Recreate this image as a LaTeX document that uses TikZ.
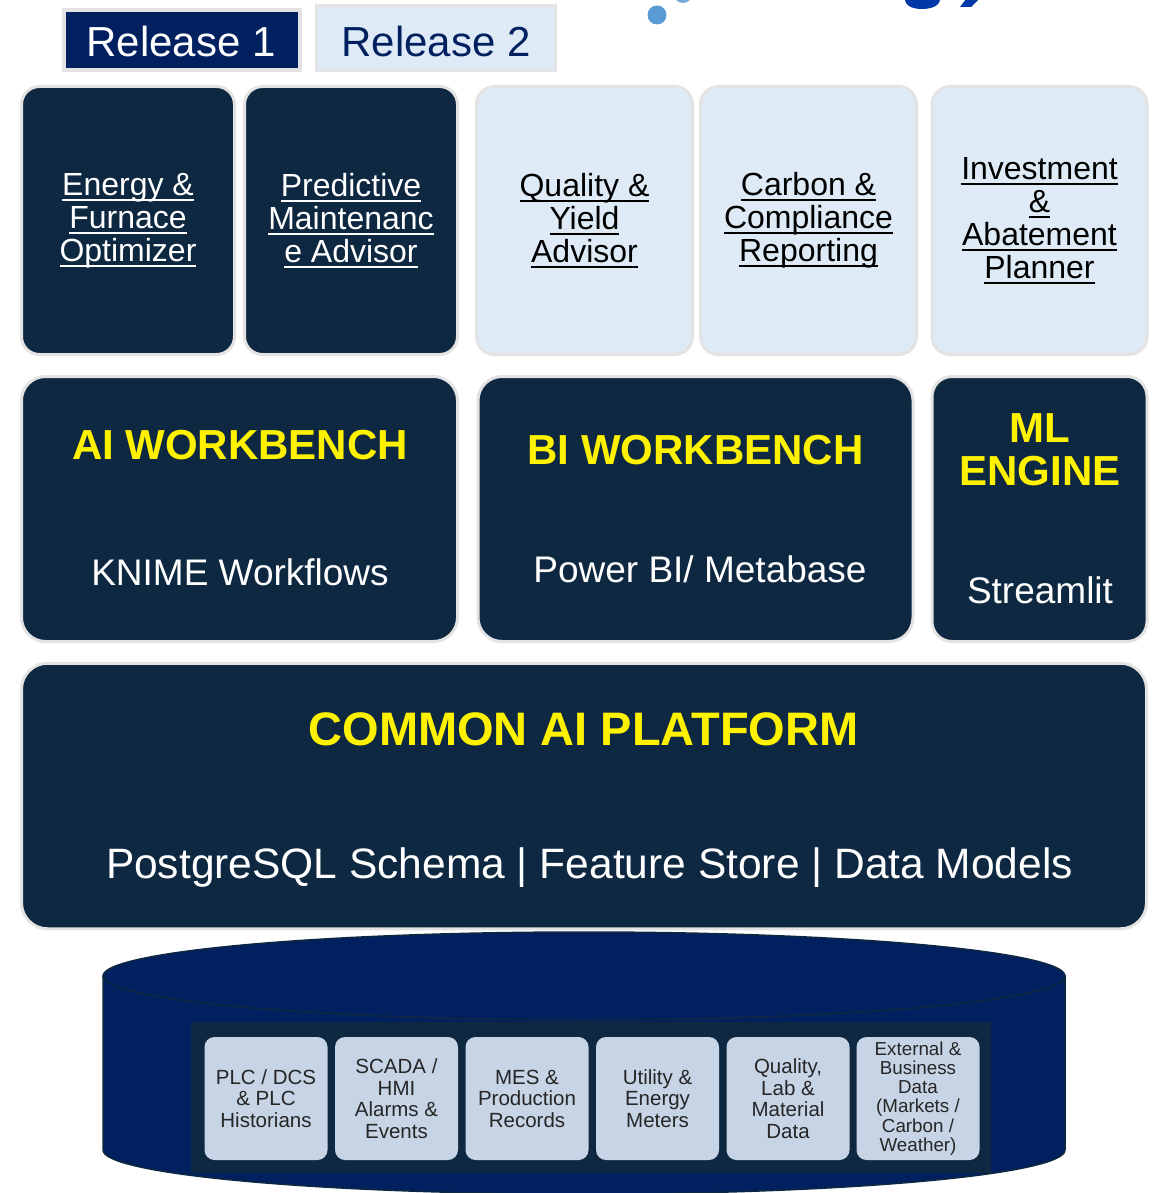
\documentclass[tikz,border=0pt]{standalone}
\usepackage{fontspec}
\setmainfont{Liberation Sans}
\definecolor{navy}{HTML}{0F2841}
\definecolor{relblue}{HTML}{002060}
\definecolor{lightcard}{HTML}{DEEBF7}
\definecolor{cardedge}{HTML}{E3E3E3}
\definecolor{databox}{HTML}{C6D4E5}
\definecolor{datatext}{HTML}{262626}
\definecolor{dotblue}{HTML}{5B9BD5}
\definecolor{logoblue}{HTML}{0038A8}
\definecolor{cylline}{HTML}{0E2841}
\newcommand\ulx[1]{\setbox0\hbox{#1}\rlap{\rule[-5.5pt]{\wd0}{1.8pt}}\box0}
\tikzset{
  card/.style={draw=cardedge, line width=3pt, rounded corners=18pt, inner sep=0pt, align=center},
  darkcard/.style={card, fill=navy, text=white},
  lightcardbox/.style={card, fill=lightcard, text=black},
  apptext/.style={font=\fontsize{32}{33}\selectfont},
  titletext/.style={text=yellow, font=\bfseries\fontsize{42}{43}\selectfont, align=center, inner sep=0pt, anchor=base},
  subtext/.style={text=white, font=\fontsize{37}{38}\selectfont, inner sep=0pt, anchor=base},
  databoxst/.style={fill=databox, rounded corners=10pt, minimum width=123pt, minimum height=123pt, inner sep=0pt, align=center, text=datatext, font=\fontsize{20.5}{21.5}\selectfont},
}
\begin{document}
\begin{tikzpicture}[x=1pt,y=-1pt]
\useasboundingbox (0,0) rectangle (1152,1193);
\clip (0,0) rectangle (1152,1193);
\fill[white] (0,0) rectangle (1152,1193);

% logo fragments
\fill[dotblue] (657,15) circle[radius=9.5pt];
\fill[dotblue!85] (683,-6) circle[radius=9pt];
\fill[logoblue] (905,-1) .. controls (905,6) and (913,9) .. (922,9) .. controls (931,9) and (940,6) .. (940,-1) -- cycle;
\fill[logoblue] (966,-1) -- (979,-1) -- (971,7) -- (960,7) -- cycle;

% releases
\node[draw=cardedge, line width=4pt, fill=relblue, minimum width=236pt, minimum height=60pt, inner sep=0pt] (rel1) at (182,40) {};
\node[text=white, font=\fontsize{42}{44}\selectfont, anchor=base, inner sep=0pt] (rel1t) at (181,57) {Release 1};
\node[draw=cardedge, line width=3pt, fill=lightcard, minimum width=239pt, minimum height=65pt, inner sep=0pt] (rel2) at (435.5,38.5) {};
\node[text=relblue, font=\fontsize{42}{44}\selectfont, anchor=base, inner sep=0pt] (rel2t) at (436,57) {Release 2};

% application cards
\node[darkcard, apptext, minimum width=213pt, minimum height=268pt] (app1) at (128,220.5) {\ulx{Energy \&}\\\ulx{Furnace}\\\ulx{Optimizer}};
\node[darkcard, apptext, minimum width=213pt, minimum height=268pt] (app2) at (351,220.5) {\ulx{Predictive}\\\ulx{Maintenanc}\\\ulx{e Advisor}};
\node[lightcardbox, apptext, minimum width=216pt, minimum height=268pt] (app3) at (584.5,220.5) {\ulx{Quality \&}\\\ulx{Yield}\\\ulx{Advisor}};
\node[lightcardbox, apptext, minimum width=216pt, minimum height=268pt] (app4) at (808.5,220.5) {\ulx{Carbon \&}\\\ulx{Compliance}\\\ulx{Reporting}};
\node[lightcardbox, apptext, minimum width=215pt, minimum height=268pt] (app5) at (1039.5,220.5) {\ulx{Investment}\\\ulx{\&}\\\ulx{Abatement}\\\ulx{Planner}};

% workbenches
\node[darkcard, minimum width=436pt, minimum height=265pt, rounded corners=24pt] (ai) at (239.5,509) {};
\node[titletext] (aititle) at (240,459) {AI WORKBENCH};
\node[subtext] (aisub) at (240,585) {KNIME Workflows};

\node[darkcard, minimum width=435pt, minimum height=265pt, rounded corners=24pt] (bi) at (695.5,509) {};
\node[titletext] (bititle) at (695.5,464) {BI WORKBENCH};
\node[subtext] (bisub) at (700,582) {Power BI/ Metabase};

\node[darkcard, minimum width=215pt, minimum height=265pt, rounded corners=20pt] (ml) at (1039.5,509) {};
\node[titletext] (mltitle1) at (1040,442) {ML};
\node[titletext] (mltitle2) at (1040,485) {ENGINE};
\node[subtext] (mlsub) at (1040,603) {Streamlit};

% cylinder (data layer)
\filldraw[fill=relblue, draw=cylline, line width=1.5pt] (103,976) -- (103,1150) .. controls (103,1174.3) and (318.3,1194) .. (584,1194) .. controls (849.7,1194) and (1065,1174.3) .. (1065,1150) -- (1065,976) -- cycle;
\filldraw[fill=relblue, draw=cylline, line width=1.5pt] (584,976) ellipse[x radius=481pt, y radius=44pt];
\node[fill=navy, minimum width=800pt, minimum height=151pt, inner sep=0pt] (datapanel) at (591,1097.5) {};

\node[databoxst] (d1) at (266,1098.5) {PLC / DCS\\\& PLC\\Historians};
\node[databoxst] (d2) at (396.5,1098.5) {SCADA /\\HMI\\Alarms \&\\Events};
\node[databoxst] (d3) at (527,1098.5) {MES \&\\Production\\Records};
\node[databoxst] (d4) at (657.5,1098.5) {Utility \&\\Energy\\Meters};
\node[databoxst] (d5) at (788,1098.5) {Quality,\\Lab \&\\Material\\Data};
\node[databoxst, font=\fontsize{18.8}{19.2}\selectfont] (d6) at (918,1098.5) {External \&\\Business\\Data\\(Markets /\\Carbon /\\Weather)};

% common platform
\node[darkcard, minimum width=1125pt, minimum height=265.5pt, rounded corners=26pt] (platform) at (584,796) {};
\node[titletext, font=\bfseries\fontsize{47}{48}\selectfont] (plattitle) at (583.5,745) {COMMON AI PLATFORM};
\node[subtext, font=\fontsize{42.5}{44}\selectfont] (platsub) at (589.5,878) {PostgreSQL Schema | Feature Store | Data Models};
\end{tikzpicture}
\end{document}
